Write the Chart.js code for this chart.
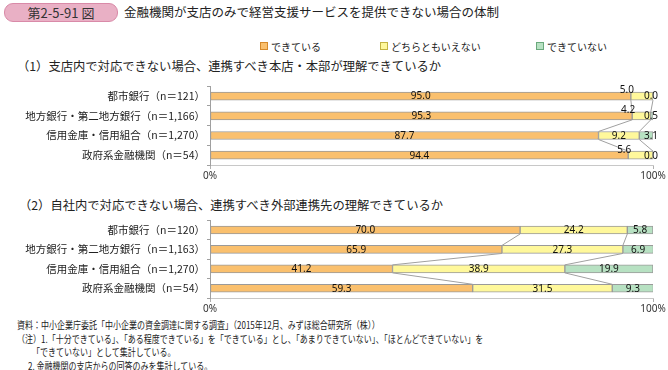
<!DOCTYPE html>
<html>
<head>
<meta charset="utf-8">
<script src="https://cdn.jsdelivr.net/npm/chart.js@4"></script>
<style>
  body { margin: 0; width: 668px; height: 370px; background: #fff; position: relative; overflow: hidden;
         font-family: "Noto Sans CJK JP", "Noto Sans", sans-serif; color: #222; }
  .abs { position: absolute; white-space: nowrap; }
  #badge { left: 4px; top: 3px; width: 112px; height: 17px; background: #e9b0c5; border: 1px solid #d98aa8;
           border-radius: 9px; font-size: 13px; line-height: 17px; text-align: center; color: #333; }
  #title { left: 124px; top: 2px; font-size: 12.5px; line-height: 19px; }
  .legend { top: 40px; font-size: 10px; line-height: 14px; }
  .legend i { display: inline-block; width: 6px; height: 6px; margin-right: 3px; vertical-align: 1px; border: 1px solid; }
  .sub { font-size: 12.3px; line-height: 16px; }
  .note { font-size: 10px; line-height: 13px; transform: scaleX(0.8); transform-origin: left top; }
  .box { position: absolute; left: 0; width: 668px; height: 102px; }
</style>
</head>
<body>
<div id="badge" class="abs">第2-5-91 図</div>
<div id="title" class="abs">金融機関が支店のみで経営支援サービスを提供できない場合の体制</div>

<div class="abs legend" style="left:260px"><i style="background:#fac06e;border-color:#d68a2c"></i>できている</div>
<div class="abs legend" style="left:380px"><i style="background:#fff89b;border-color:#c4b443"></i>どちらともいえない</div>
<div class="abs legend" style="left:536px"><i style="background:#b7e1c2;border-color:#6aa97c"></i>できていない</div>

<div class="abs sub" style="left:17px; top:58px">（1）支店内で対応できない場合、連携すべき本店・本部が理解できているか</div>
<div class="box" style="top:78px"><canvas id="c1"></canvas></div>

<div class="abs sub" style="left:19px; top:197px">（2）自社内で対応できない場合、連携すべき外部連携先の理解できているか</div>
<div class="box" style="top:212px"><canvas id="c2"></canvas></div>

<div class="abs note" style="left:17px; top:318px">資料：中小企業庁委託「中小企業の資金調達に関する調査」（2015年12月、みずほ総合研究所（株））</div>
<div class="abs note" style="left:17px; top:332px">（注）1.「十分できている」、「ある程度できている」を「できている」とし、「あまりできていない」、「ほとんどできていない」を</div>
<div class="abs note" style="left:32px; top:345px">「できていない」として集計している。</div>
<div class="abs note" style="left:28px; top:359px">2. 金融機関の支店からの回答のみを集計している。</div>

<script>
// data
const seriesNames = ["できている", "どちらともいえない", "できていない"];
const seriesColors = ["#fac06e", "#fff89b", "#b7e1c2"];

const labels1 = ["都市銀行（n＝121）", "地方銀行・第二地方銀行（n＝1,166）", "信用金庫・信用組合（n＝1,270）", "政府系金融機関（n＝54）"];
const yes1 = [95.0, 95.3, 87.7, 94.4];
const neither1 = [5.0, 4.2, 9.2, 5.6];
const no1 = [0.0, 0.5, 3.1, 0.0];

const labels2 = ["都市銀行（n＝120）", "地方銀行・第二地方銀行（n＝1,163）", "信用金庫・信用組合（n＝1,270）", "政府系金融機関（n＝54）"];
const yes2 = [70.0, 65.9, 41.2, 59.3];
const neither2 = [24.2, 27.3, 38.9, 31.5];
const no2 = [5.8, 6.9, 19.9, 9.3];

const axisTicks = [0, 100];

// connector lines between bars + value labels
const barDecor = {
  id: 'barDecor',
  afterDatasetsDraw(chart, args, opts) {
    const ctx = chart.ctx;
    const xs = chart.scales.x;
    const sets = chart.data.datasets;
    const n = chart.data.labels.length;
    ctx.save();
    ctx.strokeStyle = '#a0a0a0';
    ctx.lineWidth = 1;
    for (let k = 0; k < sets.length - 1; k++) {
      for (let i = 0; i < n - 1; i++) {
        let c1 = 0, c2 = 0;
        for (let d = 0; d <= k; d++) { c1 += sets[d].data[i]; c2 += sets[d].data[i + 1]; }
        const a = chart.getDatasetMeta(0).data[i];
        const b = chart.getDatasetMeta(0).data[i + 1];
        ctx.beginPath();
        ctx.moveTo(xs.getPixelForValue(Math.min(c1, 100)), a.y + a.height / 2);
        ctx.lineTo(xs.getPixelForValue(Math.min(c2, 100)), b.y - b.height / 2);
        ctx.stroke();
      }
    }
    ctx.fillStyle = '#111';
    ctx.font = '10px "Noto Sans", sans-serif';
    ctx.textAlign = 'center';
    ctx.textBaseline = 'middle';
    sets.forEach((ds, d) => {
      chart.getDatasetMeta(d).data.forEach((el, i) => {
        let x = (el.x + el.base) / 2;
        let y = el.y;
        const w = Math.abs(el.x - el.base);
        if (opts.narrow) {
          if (d === 1 && w < 30) { x = el.base - 4; y = el.y - el.height / 2 - 2; }
          if (d === 2) { x = xs.getPixelForValue(100) - 2; }
        }
        ctx.fillText(ds.data[i].toFixed(1), x, y + 0.5);
      });
    });
    ctx.restore();
  }
};

function makeChart(id, labels, values, narrow, bottomH) {
  return new Chart(document.getElementById(id), {
    type: 'bar',
    data: {
      labels: labels,
      datasets: values.map((v, i) => ({
        label: seriesNames[i],
        data: v,
        backgroundColor: seriesColors[i],
        borderColor: '#9a9a9a',
        borderWidth: 1,
        borderSkipped: false,
        barThickness: 8
      }))
    },
    options: {
      indexAxis: 'y',
      responsive: true,
      maintainAspectRatio: false,
      animation: false,
      layout: { padding: { top: 5, right: 15, bottom: 0, left: 0 } },
      plugins: {
        legend: { display: false },
        tooltip: { enabled: false },
        barDecor: { narrow: narrow }
      },
      scales: {
        x: {
          stacked: true, min: 0, max: 100,
          afterBuildTicks: s => { s.ticks = axisTicks.map(v => ({ value: v })); },
          afterFit: s => { s.height = bottomH; },
          grid: { drawOnChartArea: false, tickLength: 4, color: '#b0b0b0' },
          border: { color: '#c8c8c8' },
          ticks: { padding: 1, color: '#333', font: { size: 10, family: '"Noto Sans", sans-serif' },
                   callback: v => v + '%' }
        },
        y: {
          stacked: true,
          afterFit: s => { s.width = 210; },
          grid: { offset: true, drawOnChartArea: false, tickLength: 3, color: '#a0a0a0' },
          border: { color: '#a0a0a0' },
          ticks: { padding: 2, color: '#222', font: { size: 10.5, family: '"Noto Sans CJK JP", sans-serif' } }
        }
      }
    },
    plugins: [barDecor]
  });
}

makeChart('c1', labels1, [yes1, neither1, no1], true, 15);
makeChart('c2', labels2, [yes2, neither2, no2], false, 16);
</script>
</body>
</html>
